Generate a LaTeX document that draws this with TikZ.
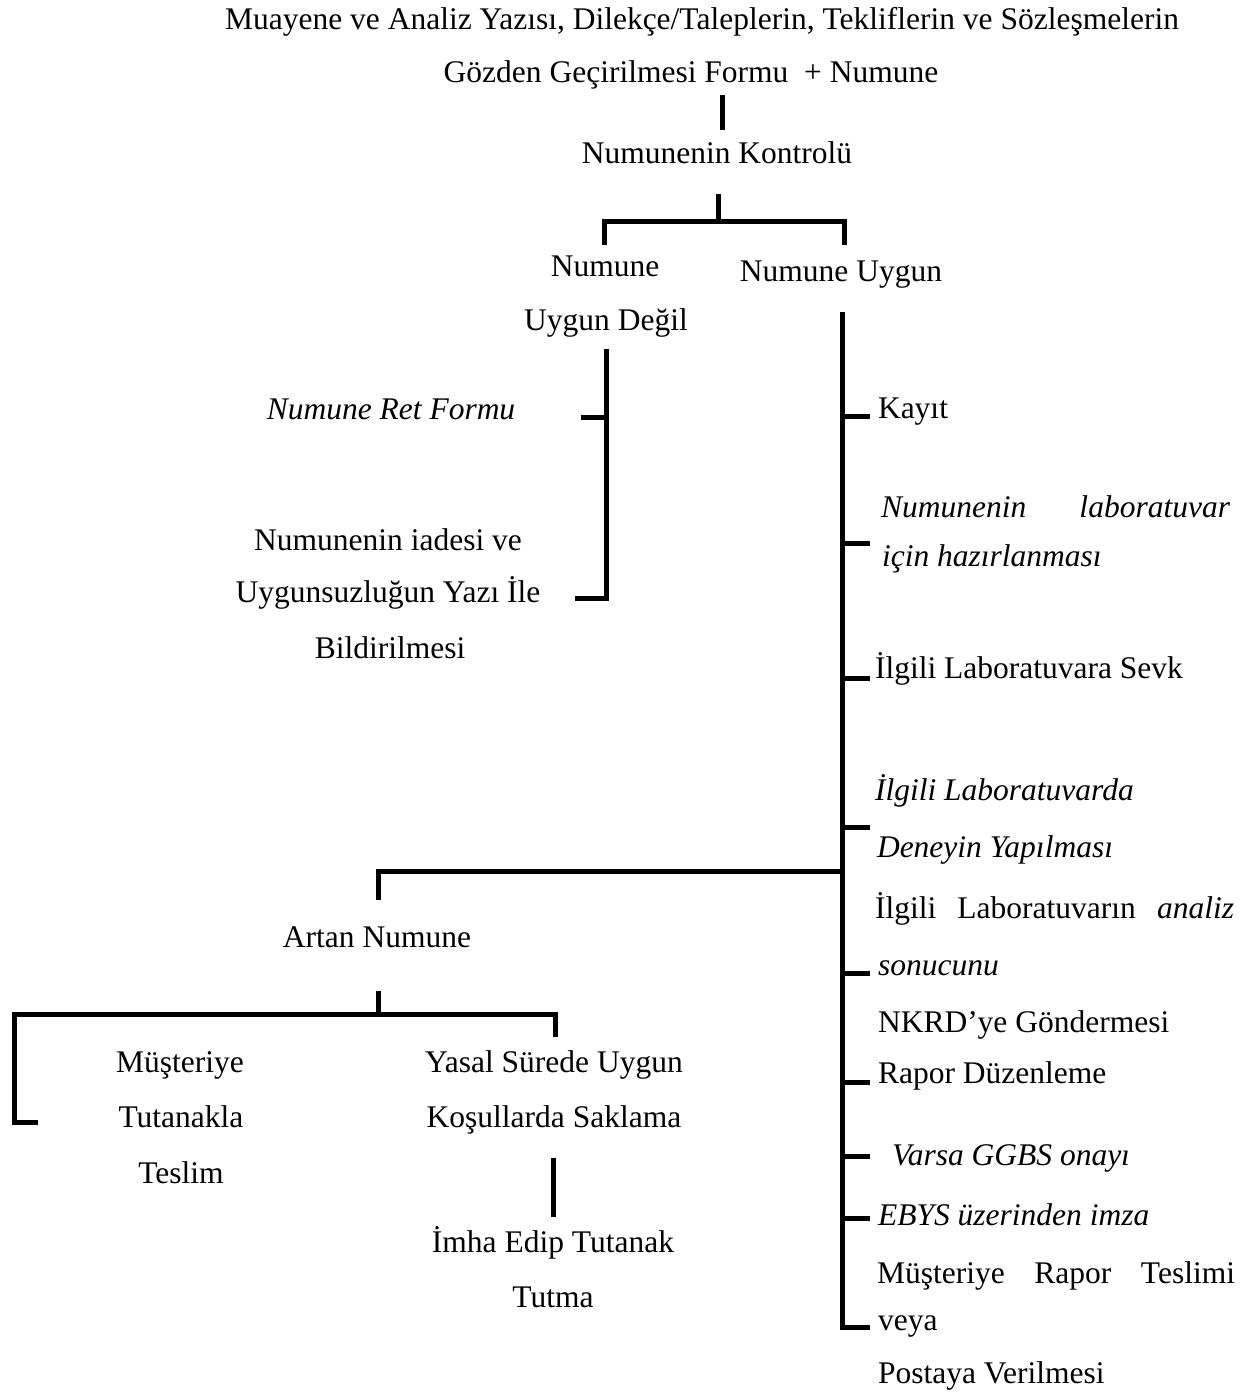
\documentclass[tikz,border=0pt]{standalone}
\usepackage{fontspec}
\setmainfont{Liberation Serif}
\newcommand\fsz{\fontsize{15.75pt}{28.25pt}\selectfont}
\tikzset{
  lbl/.style={inner sep=0pt, outer sep=0pt, anchor=base, font=\fsz},
  lblw/.style={lbl, anchor=base west},
  conn/.style={line width=2.5pt, line join=miter},
}
\begin{document}
\begin{tikzpicture}[x=0.5pt, y=-0.5pt]
\useasboundingbox (0,0) rectangle (1248,1395);

% ---------- texts ----------
\node[lbl] (head1) at (702,30) {Muayene ve Analiz Yazısı, Dilekçe/Taleplerin, Tekliflerin ve Sözleşmelerin};
\node[lbl] (head2) at (691,83) {Gözden Geçirilmesi Formu~ + Numune};
\node[lbl] (kontrol) at (717,164) {Numunenin Kontrolü};
\node[lbl] (nud1) at (605,277) {Numune};
\node[lbl] (nud2) at (606,331) {Uygun Değil};
\node[lbl] (nu) at (841,282) {Numune Uygun};

\node[lbl] (ret) at (391,420) {\itshape Numune Ret Formu};
\node[lbl] (iade1) at (388,550) {Numunenin iadesi ve};
\node[lbl] (iade2) at (388,602) {Uygunsuzluğun Yazı İle};
\node[lbl] (iade3) at (390,658) {Bildirilmesi};

\node[lblw] (kayit) at (878,418) {Kayıt};
\node[lblw] (haz1) at (881,517) {\makebox[174.5pt][s]{\itshape Numunenin laboratuvar}};
\node[lblw] (haz2) at (882,566) {\itshape için hazırlanması};
\node[lblw] (sevk) at (875,678) {İlgili Laboratuvara Sevk};
\node[lblw] (den1) at (875,800) {\itshape İlgili Laboratuvarda};
\node[lblw] (den2) at (877,857) {\itshape Deneyin Yapılması};
\node[lblw] (an1) at (875,918) {\makebox[179.5pt][s]{İlgili Laboratuvarın \textit{analiz}}};
\node[lblw] (an2) at (878,975) {\itshape sonucunu};
\node[lblw] (an3) at (878,1032) {NKRD’ye Göndermesi};
\node[lblw] (rapor) at (878,1083) {Rapor Düzenleme};
\node[lblw] (ggbs) at (892,1165) {\itshape Varsa GGBS onayı};
\node[lblw] (ebys) at (878,1225) {\itshape EBYS üzerinden imza};
\node[lblw] (tes1) at (877,1283) {\makebox[179pt][s]{Müşteriye Rapor Teslimi}};
\node[lblw] (tes2) at (878,1330) {veya};
\node[lblw] (tes3) at (878,1383) {Postaya Verilmesi};

\node[lbl] (artan) at (377,947) {Artan Numune};
\node[lbl] (mus1) at (180,1072) {Müşteriye};
\node[lbl] (mus2) at (181,1127) {Tutanakla};
\node[lbl] (mus3) at (181,1183) {Teslim};
\node[lbl] (yas1) at (554,1072) {Yasal Sürede Uygun};
\node[lbl] (yas2) at (554,1127) {Koşullarda Saklama};
\node[lbl] (imha1) at (553,1252) {İmha Edip Tutanak};
\node[lbl] (imha2) at (553,1307) {Tutma};

% ---------- connector points ----------
\coordinate (a1) at (722,95);  \coordinate (a2) at (722,130);
\coordinate (b1) at (718,194); \coordinate (b2) at (718,222);
\coordinate (bl) at (604,245); \coordinate (blc) at (604,222);
\coordinate (brc) at (844,222); \coordinate (br) at (844,245);

\coordinate (lv1) at (606,349); \coordinate (lv2) at (606,598);
\coordinate (lb) at (575,598);
\coordinate (lt1) at (581,418); \coordinate (lt2) at (606,418);

\coordinate (rv1) at (842,312); \coordinate (rv2) at (842,1327);
\coordinate (rb) at (870,1327);

\coordinate (ar1) at (842,871); \coordinate (ar2) at (378,871); \coordinate (ar3) at (378,900);
\coordinate (ad1) at (378,991); \coordinate (ad2) at (378,1014);
\coordinate (mL) at (38,1122); \coordinate (mLc) at (14,1122); \coordinate (mLt) at (14,1014);
\coordinate (mRt) at (555,1014); \coordinate (mR) at (555,1037);
\coordinate (y1) at (553,1158); \coordinate (y2) at (553,1217);

% ---------- connectors ----------
\draw[conn] (a1) -- (a2);
\draw[conn] (b1) -- (b2);
\draw[conn] (bl) -- (blc) -- (brc) -- (br);
\draw[conn] (lv1) -- (lv2) -- (lb);
\draw[conn] (lt1) -- (lt2);
\draw[conn] (rv1) -- (rv2) -- (rb);
\foreach \yy/\nm in {417/kayitT,543/hazT,678/sevkT,827/denT,973/anT,1082/rapT,1156/ggbsT,1218/ebysT}{
  \coordinate (\nm1) at (842,\yy);
  \coordinate (\nm2) at (870,\yy);
  \draw[conn] (\nm1) -- (\nm2);
}
\draw[conn] (ar1) -- (ar2) -- (ar3);
\draw[conn] (ad1) -- (ad2);
\draw[conn] (mL) -- (mLc) -- (mLt) -- (mRt) -- (mR);
\draw[conn] (y1) -- (y2);
\end{tikzpicture}
\end{document}
